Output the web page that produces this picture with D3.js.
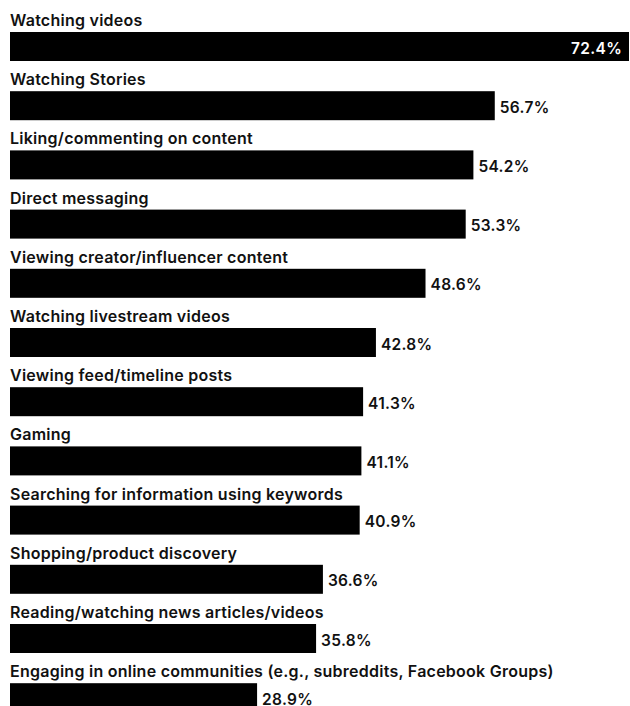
<!DOCTYPE html>
<html>
<head>
<meta charset="utf-8">
<script src="https://cdn.jsdelivr.net/npm/d3@7"></script>
<style>
  html, body { margin: 0; padding: 0; background: #fff; }
  svg { display: block; }
</style>
</head>
<body>
<svg id="chart" width="630" height="706"></svg>
<script>
// activities, in the order shown
const activities = [
  "Watching videos",
  "Watching Stories",
  "Liking/commenting on content",
  "Direct messaging",
  "Viewing creator/influencer content",
  "Watching livestream videos",
  "Viewing feed/timeline posts",
  "Gaming",
  "Searching for information using keywords",
  "Shopping/product discovery",
  "Reading/watching news articles/videos",
  "Engaging in online communities (e.g., subreddits, Facebook Groups)"
];
// share of users, %
const shares = [72.4, 56.7, 54.2, 53.3, 48.6, 42.8, 41.3, 41.1, 40.9, 36.6, 35.8, 28.9];

const rows = activities.map((a, i) => ({ name: a, value: shares[i] }));

const svg = d3.select("#chart"),
    width = +svg.attr("width"),
    height = +svg.attr("height");

const left = 10;

const x = d3.scaleLinear()
    .domain([0, d3.max(shares)])
    .range([left, 629]);

// step ~59.2px, bar 29px tall, first bar top at y=32
const pad = 1 - 29 / 59.2;
const y = d3.scaleBand()
    .domain(activities)
    .range([32, 32 + 59.2 * (activities.length - pad)])
    .paddingInner(pad)
    .paddingOuter(0)
    .align(0);

const font = "Inter, 'Noto Sans', sans-serif";

const row = svg.selectAll(".row")
  .data(rows)
  .enter().append("g")
    .attr("class", "row");

row.append("text")
    .attr("x", left)
    .attr("y", d => y(d.name) - 6)
    .attr("font-family", font)
    .attr("font-size", 16)
    .attr("font-weight", 600)
    .attr("letter-spacing", 0.25)
    .attr("fill", "#111")
    .text(d => d.name);

row.append("rect")
    .attr("x", x(0))
    .attr("y", d => y(d.name))
    .attr("width", d => x(d.value) - x(0))
    .attr("height", y.bandwidth())
    .attr("fill", "#000");

// value labels: inside the bar if it reaches the edge, else just after it
const inside = d => x(d.value) + 55 > width;
row.append("text")
    .attr("x", d => inside(d) ? x(d.value) - 7 : x(d.value) + 5)
    .attr("y", d => y(d.name) + 21.5)
    .attr("text-anchor", d => inside(d) ? "end" : "start")
    .attr("font-family", font)
    .attr("font-size", 15.5)
    .attr("font-weight", 600)
    .attr("letter-spacing", 0.3)
    .attr("fill", d => inside(d) ? "#fff" : "#111")
    .text(d => d.value.toFixed(1) + "%");
</script>
</body>
</html>
